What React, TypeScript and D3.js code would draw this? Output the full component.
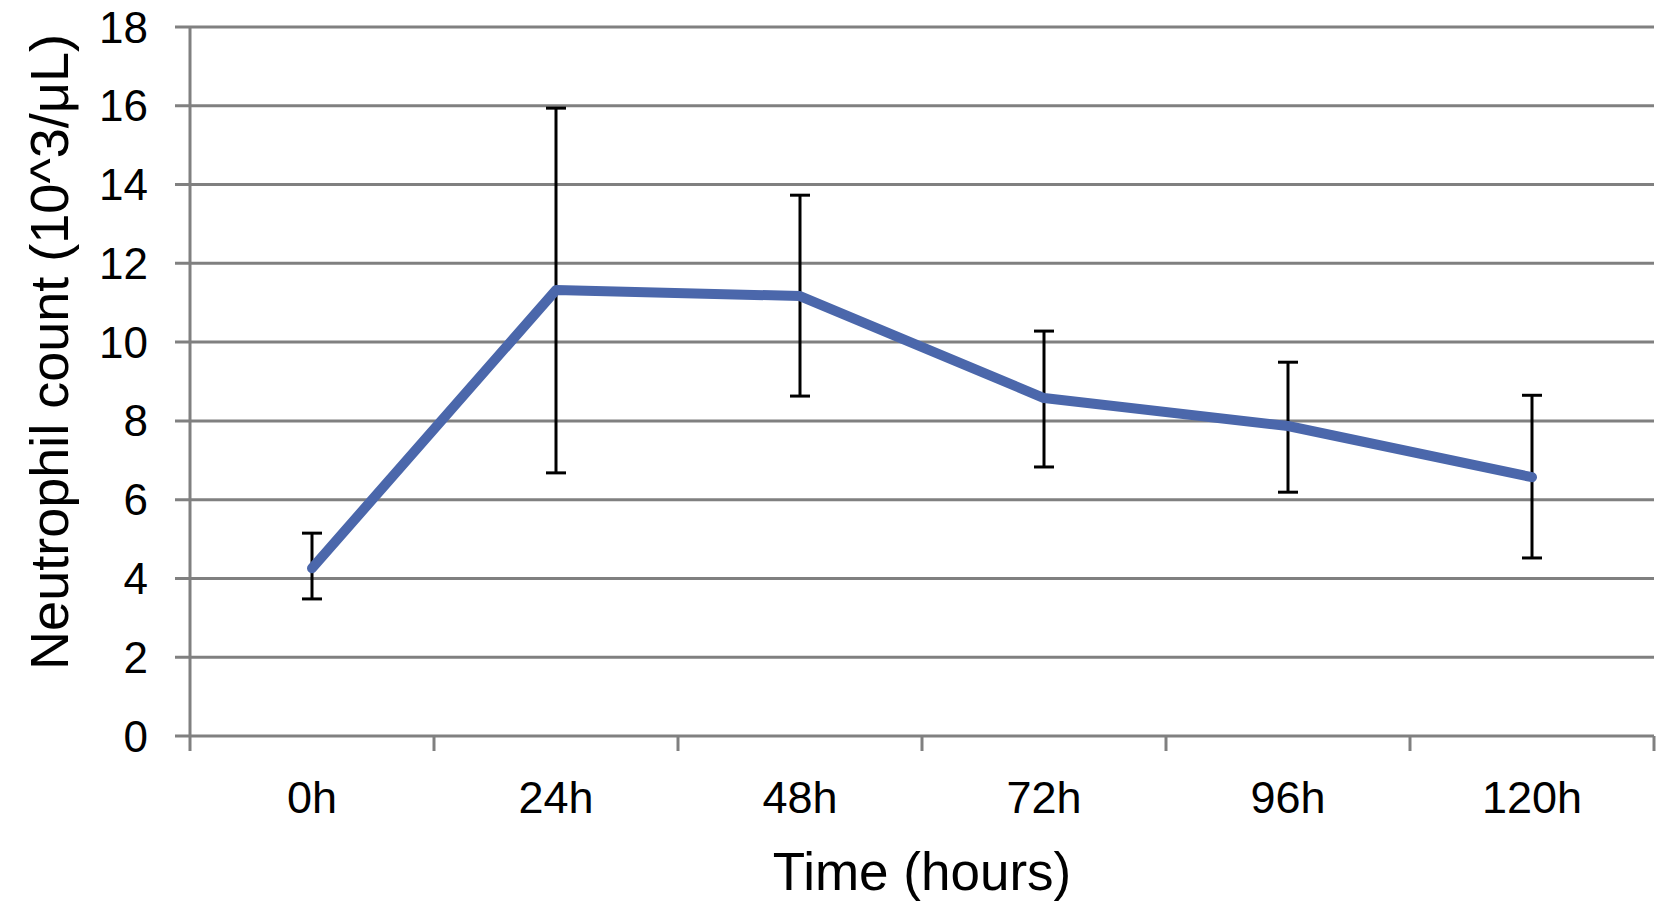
import React from 'react';
import * as d3 from 'd3';

const categories = ['0h', '24h', '48h', '72h', '96h', '120h'];
const means = [4.26, 11.32, 11.17, 8.58, 7.87, 6.57];
const upper = [5.15, 15.94, 13.73, 10.28, 9.49, 8.65];
const lower = [3.48, 6.68, 8.63, 6.83, 6.19, 4.52];
const yTicks = [0, 2, 4, 6, 8, 10, 12, 14, 16, 18];

const W = 1658;
const H = 916;
const margin = { top: 27, right: 4, bottom: 180, left: 190 };
const font = '"Liberation Sans", Arial, Helvetica, sans-serif';
const grid = '#808080';

const App = () => {
  const x = d3
    .scaleBand()
    .domain(categories)
    .range([margin.left, W - margin.right])
    .padding(0);
  const y = d3
    .scaleLinear()
    .domain([0, 18])
    .range([H - margin.bottom, margin.top]);

  const cx = (c) => x(c) + x.bandwidth() / 2;
  const line = d3
    .line<number>()
    .x((_, i) => cx(categories[i]))
    .y((d) => y(d));

  const y0 = y(0);
  const capW = 10;

  return (
    <svg width={W} height={H} style={{ position: 'absolute', left: 0, top: 0, background: '#fff' }}>
      {/* gridlines + y ticks */}
      {yTicks.map((t) => (
        <g key={t}>
          <line x1={margin.left - 15} x2={W - margin.right} y1={y(t)} y2={y(t)} stroke={grid} strokeWidth={3} />
          <text
            x={148}
            y={y(t)}
            textAnchor="end"
            dominantBaseline="central"
            fontFamily={font}
            fontSize={44}
            fill="#000"
          >
            {t}
          </text>
        </g>
      ))}
      {/* y axis */}
      <line x1={margin.left} x2={margin.left} y1={margin.top} y2={y0 + 15} stroke={grid} strokeWidth={3} />
      {/* x category boundary ticks */}
      {categories.map((c) => (
        <line key={c} x1={x(c) + x.bandwidth()} x2={x(c) + x.bandwidth()} y1={y0} y2={y0 + 15} stroke={grid} strokeWidth={3} />
      ))}
      {/* x labels */}
      {categories.map((c) => (
        <text key={c} x={cx(c)} y={813} textAnchor="middle" fontFamily={font} fontSize={45} fill="#000">
          {c}
        </text>
      ))}
      {/* error bars */}
      {categories.map((c, i) => (
        <g key={c} stroke="#000" strokeWidth={3}>
          <line x1={cx(c)} x2={cx(c)} y1={y(upper[i])} y2={y(lower[i])} />
          <line x1={cx(c) - capW} x2={cx(c) + capW} y1={y(upper[i])} y2={y(upper[i])} />
          <line x1={cx(c) - capW} x2={cx(c) + capW} y1={y(lower[i])} y2={y(lower[i])} />
        </g>
      ))}
      {/* mean line */}
      <path d={line(means)} fill="none" stroke="#4b67ab" strokeWidth={10} strokeLinejoin="round" strokeLinecap="round" />
      {/* axis titles */}
      <text x={(margin.left + W - margin.right) / 2} y={890} textAnchor="middle" fontFamily={font} fontSize={53} fill="#000">
        Time (hours)
      </text>
      <text
        transform={`translate(68, 352) rotate(-90)`}
        textAnchor="middle"
        fontFamily={font}
        fontSize={54}
        fill="#000"
      >
        Neutrophil count (10^3/μL)
      </text>
    </svg>
  );
};

export default App;
